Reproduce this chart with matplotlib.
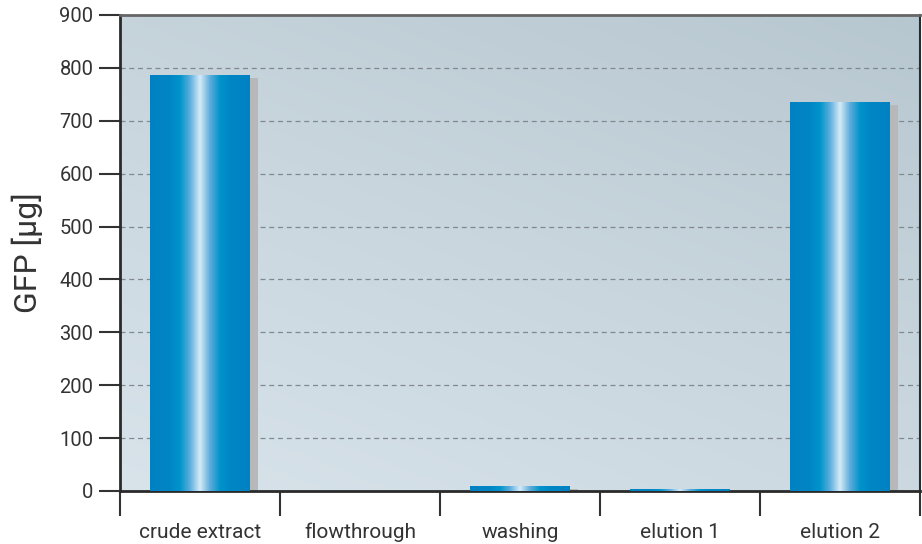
import numpy as np
import matplotlib
matplotlib.use("Agg")
import matplotlib.pyplot as plt
from matplotlib.colors import LinearSegmentedColormap
from matplotlib import font_manager

categories = ["crude extract", "flowthrough", "washing", "elution 1", "elution 2"]
values = [786, 0, 10, 4, 735]
yticks = [0, 100, 200, 300, 400, 500, 600, 700, 800, 900]

names = {f.name for f in font_manager.fontManager.ttflist}
fam = [f for f in ["Liberation Sans Narrow", "Roboto", "DejaVu Sans"] if f in names]
plt.rcParams['font.family'] = fam

fig = plt.figure(figsize=(9.22, 5.44), dpi=100)
ax = fig.add_axes([120/922, (544-491)/544, 800/922, 476/544])

x = np.arange(len(categories))
ax.set_xlim(-0.5, len(categories) - 0.5)
ax.set_ylim(0, 900)

# background gradient
gy, gx = np.mgrid[0:1:200j, 0:1:200j]
bg = (gx * 0.6 + gy * 0.9) / 1.5
bg_cmap = LinearSegmentedColormap.from_list("bg", ["#d8e3ea", "#c9d6de", "#b7c7d0"])
ax.imshow(bg, cmap=bg_cmap, extent=[0, 1, 0, 1], transform=ax.transAxes,
          origin="lower", aspect="auto", zorder=0)

ax.set_yticks(yticks)
ax.yaxis.grid(True, linestyle=(0, (4, 3)), color="#808890", linewidth=0.9, zorder=1)
ax.set_axisbelow(True)

width = 0.62
# shadows
shadow_dx = 0.05
ax.bar(x + shadow_dx, [max(v - 6, 0) for v in values], width=width,
       color="#b6b8ba", zorder=2, linewidth=0)
bars = ax.bar(x, values, width=width, color="none", zorder=3, linewidth=0)

bar_cmap = LinearSegmentedColormap.from_list(
    "bar", [(0.0, "#0082c2"), (0.2, "#0086c5"), (0.3, "#0094cb"),
            (0.4, "#5eaedc"), (0.5, "#d6ebf8"), (0.6, "#5eaedc"),
            (0.7, "#0094cb"), (0.8, "#0086c5"), (1.0, "#0082c2")])
grad = np.linspace(0, 1, 256).reshape(1, -1)
for b in bars:
    h = b.get_height()
    if h <= 0:
        continue
    x0 = b.get_x()
    im = ax.imshow(grad, cmap=bar_cmap, extent=[x0, x0 + b.get_width(), 0, h],
                   aspect="auto", zorder=3, origin="lower", interpolation="bilinear")
    im.set_clip_path(b)

ax.set_xlim(-0.5, len(categories) - 0.5)
ax.set_ylim(0, 900)

# x ticks at boundaries, labels at centers
ax.set_xticks(np.arange(-0.5, len(categories) + 0.5, 1.0))
ax.set_xticklabels([])
ax.set_xticks(x, minor=True)
ax.set_xticklabels(categories, minor=True, fontsize=15, color="#333333")
ax.tick_params(axis="x", which="minor", length=0, pad=23)
ax.tick_params(axis="x", which="major", length=18, width=1.5, color="#333333", direction="out")
ax.tick_params(axis="y", length=15, width=1.5, color="#333333", labelsize=14.5,
               labelcolor="#333333", pad=4)

for s in ["left", "bottom"]:
    ax.spines[s].set_color("#2a2a2a")
    ax.spines[s].set_linewidth(2)
ax.spines["top"].set_color("#666666")
ax.spines["top"].set_linewidth(2)
ax.spines["right"].set_color("#2a2a2a")
ax.spines["right"].set_linewidth(1.5)

ax.set_ylabel("GFP [µg]", fontsize=23, color="#333333", labelpad=12)

fig.savefig("out.png", dpi=100)
